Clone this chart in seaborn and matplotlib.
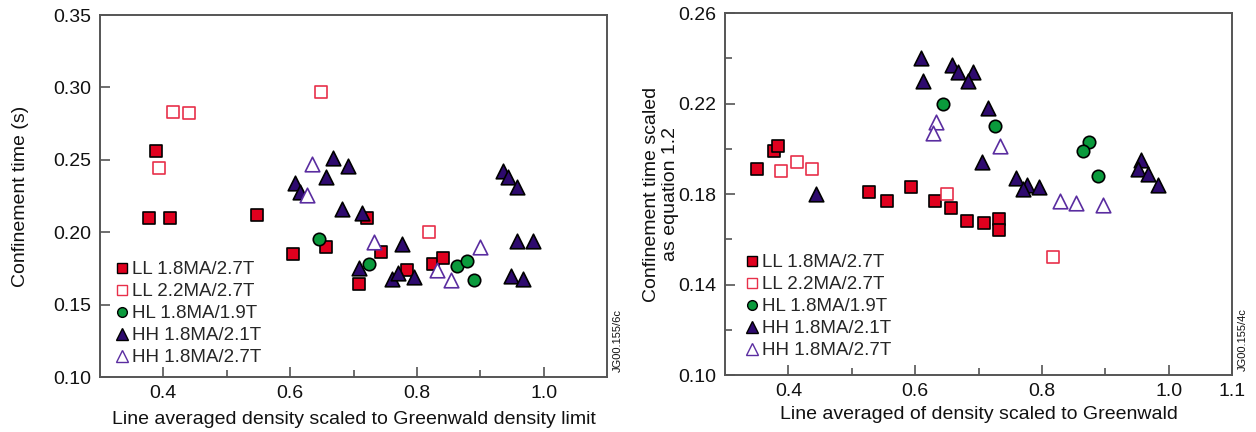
import matplotlib
matplotlib.use("Agg")
import matplotlib.pyplot as plt
from matplotlib.lines import Line2D
from matplotlib.ticker import FixedLocator
import seaborn as sns
import pandas as pd

sns.set_theme(style="white")
plt.rcParams['font.family'] = ['Liberation Sans', 'DejaVu Sans']

labels = ["LL 1.8MA/2.7T", "LL 2.2MA/2.7T", "HL 1.8MA/1.9T", "HH 1.8MA/2.1T", "HH 1.8MA/2.7T"]

# ---- Left panel data ----
L_ll18_x = [0.378, 0.410, 0.388, 0.548, 0.605, 0.656, 0.722, 0.743, 0.708, 0.785, 0.825, 0.842]
L_ll18_y = [0.210, 0.210, 0.256, 0.212, 0.185, 0.190, 0.210, 0.186, 0.164, 0.174, 0.178, 0.182]
L_ll22_x = [0.415, 0.441, 0.393, 0.649, 0.819]
L_ll22_y = [0.283, 0.282, 0.244, 0.297, 0.200]
L_hl_x = [0.646, 0.725, 0.864, 0.879, 0.890]
L_hl_y = [0.195, 0.178, 0.177, 0.180, 0.167]
L_hh21_x = [0.608, 0.615, 0.656, 0.668, 0.692, 0.682, 0.714, 0.936, 0.944, 0.958, 0.958, 0.983,
            0.948, 0.967, 0.777, 0.708, 0.760, 0.771, 0.796]
L_hh21_y = [0.234, 0.228, 0.238, 0.251, 0.246, 0.216, 0.213, 0.242, 0.238, 0.231, 0.194, 0.194,
            0.170, 0.168, 0.192, 0.175, 0.168, 0.172, 0.169]
L_hh27_x = [0.635, 0.627, 0.733, 0.831, 0.854, 0.899]
L_hh27_y = [0.247, 0.226, 0.193, 0.174, 0.167, 0.190]

# ---- Right panel data ----
R_ll18_x = [0.350, 0.378, 0.384, 0.528, 0.555, 0.593, 0.631, 0.656, 0.682, 0.709, 0.732, 0.732]
R_ll18_y = [0.191, 0.199, 0.201, 0.181, 0.177, 0.183, 0.177, 0.174, 0.168, 0.167, 0.169, 0.164]
R_ll22_x = [0.389, 0.414, 0.438, 0.650, 0.818]
R_ll22_y = [0.190, 0.194, 0.191, 0.180, 0.152]
R_hl_x = [0.644, 0.726, 0.875, 0.865, 0.889]
R_hl_y = [0.220, 0.210, 0.203, 0.199, 0.188]
R_hh21_x = [0.610, 0.612, 0.444, 0.658, 0.667, 0.691, 0.683, 0.715, 0.705, 0.759, 0.776, 0.770,
            0.796, 0.956, 0.952, 0.968, 0.984]
R_hh21_y = [0.240, 0.230, 0.180, 0.237, 0.234, 0.234, 0.230, 0.218, 0.194, 0.187, 0.184, 0.182,
            0.183, 0.195, 0.191, 0.189, 0.184]
R_hh27_x = [0.633, 0.628, 0.734, 0.829, 0.854, 0.897]
R_hh27_y = [0.212, 0.207, 0.201, 0.177, 0.176, 0.175]

RED = "#E0001E"
RED_OPEN = "#E8304A"
GREEN = "#0A9A3C"
PURPLE = "#2E0A6E"
PURPLE_OPEN = "#5A2DA0"

styles = [
    dict(marker="s", facecolor=RED, edgecolor="black", s=75, linewidth=1.2),
    dict(marker="s", facecolor="white", edgecolor=RED_OPEN, s=75, linewidth=1.2),
    dict(marker="o", facecolor=GREEN, edgecolor="black", s=80, linewidth=1.2),
    dict(marker="^", facecolor=PURPLE, edgecolor="black", s=110, linewidth=1.2),
    dict(marker="^", facecolor="white", edgecolor=PURPLE_OPEN, s=110, linewidth=1.2),
]

fig = plt.figure(figsize=(12.56, 4.32), dpi=100)
axL = fig.add_axes([100/1256, 55/432, 507/1256, 362/432])
axR = fig.add_axes([725/1256, 57/432, 507/1256, 362/432])

def draw(ax, series):
    for (x, y), st in zip(series, styles):
        df = pd.DataFrame({"x": x, "y": y})
        sns.scatterplot(data=df, x="x", y="y", ax=ax, zorder=3, **st)

draw(axL, [(L_ll18_x, L_ll18_y), (L_ll22_x, L_ll22_y), (L_hl_x, L_hl_y),
           (L_hh21_x, L_hh21_y), (L_hh27_x, L_hh27_y)])
draw(axR, [(R_ll18_x, R_ll18_y), (R_ll22_x, R_ll22_y), (R_hl_x, R_hl_y),
           (R_hh21_x, R_hh21_y), (R_hh27_x, R_hh27_y)])

def legend_handles():
    hs = []
    for st in styles:
        ms = 7 if st["marker"] != "^" else 8
        hs.append(Line2D([], [], linestyle="none", marker=st["marker"], markersize=ms,
                         markerfacecolor=st["facecolor"], markeredgecolor=st["edgecolor"],
                         markeredgewidth=1.0))
    return hs

for ax in (axL, axR):
    for sp in ax.spines.values():
        sp.set_color("#555555")
        sp.set_linewidth(1.4)
    ax.tick_params(which="both", bottom=True, left=True, top=False, right=False)
    ax.tick_params(direction="in", which="major", length=7, width=1.2, color="#555555",
                   labelsize=14, labelcolor="#111111", pad=6)
    ax.tick_params(direction="in", which="minor", length=5, width=1.2, color="#555555")
    ax.set_xlim(0.3, 1.1)

axL.set_ylim(0.10, 0.35)
axL.xaxis.set_major_locator(FixedLocator([0.4, 0.6, 0.8, 1.0]))
axL.xaxis.set_minor_locator(FixedLocator([0.5, 0.7, 0.9]))
axL.set_xticklabels(["0.4", "0.6", "0.8", "1.0"])
axL.yaxis.set_major_locator(FixedLocator([0.10, 0.15, 0.20, 0.25, 0.30, 0.35]))
axL.set_yticklabels(["0.10", "0.15", "0.20", "0.25", "0.30", "0.35"])
axL.set_xlabel("Line averaged density scaled to Greenwald density limit", fontsize=14, color="#111111", labelpad=6)
axL.set_ylabel("Confinement time (s)", fontsize=14, color="#111111", labelpad=18)
axL.legend(legend_handles(), labels, loc="lower left", bbox_to_anchor=(0.01, -0.002),
           frameon=False, fontsize=13.5, handlelength=0.6, handletextpad=0.25,
           labelspacing=0.26, borderaxespad=0.2)
fig.text(618/1256, 1 - 340/432, "JG00.155/6c", rotation=90, fontsize=8, ha="center", va="center", color="#111111")

axR.set_ylim(0.10, 0.26)
axR.xaxis.set_major_locator(FixedLocator([0.4, 0.6, 0.8, 1.0, 1.1]))
axR.xaxis.set_minor_locator(FixedLocator([0.5, 0.7, 0.9]))
axR.set_xticklabels(["0.4", "0.6", "0.8", "1.0", "1.1"])
axR.yaxis.set_major_locator(FixedLocator([0.10, 0.14, 0.18, 0.22, 0.26]))
axR.yaxis.set_minor_locator(FixedLocator([0.12, 0.16, 0.20, 0.24]))
axR.set_yticklabels(["0.10", "0.14", "0.18", "0.22", "0.26"])
axR.set_xlabel("Line averaged of density scaled to Greenwald", fontsize=14, color="#111111", labelpad=4)
axR.set_ylabel("Confinement time scaled\nas equation 1.2", fontsize=14, color="#111111", labelpad=0,
               linespacing=1.1)
axR.legend(legend_handles(), labels, loc="lower left", bbox_to_anchor=(0.02, 0.012),
           frameon=False, fontsize=13.5, handlelength=0.6, handletextpad=0.25,
           labelspacing=0.26, borderaxespad=0.2)
fig.text(1243/1256, 1 - 340/432, "JG00.155/4c", rotation=90, fontsize=8, ha="center", va="center", color="#111111")

fig.savefig("out.png", dpi=100)
